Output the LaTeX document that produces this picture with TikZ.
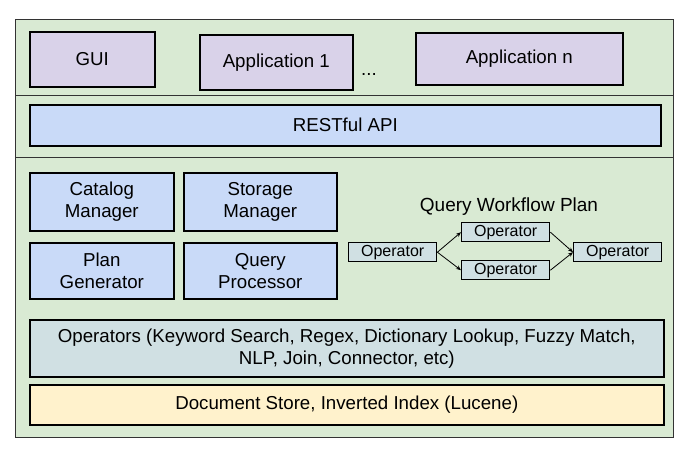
\documentclass[tikz,border=0pt]{standalone}
\usepackage{fontspec}
\setmainfont{Liberation Sans}
\usetikzlibrary{arrows.meta}

\definecolor{layergreen}{HTML}{D9EAD3}
\definecolor{apppurple}{HTML}{D9D2E9}
\definecolor{corelblue}{HTML}{C9DAF8}
\definecolor{opgray}{HTML}{D0E0E3}
\definecolor{storeyellow}{HTML}{FFF2CC}
\definecolor{framegray}{HTML}{333333}

\tikzset{
    box/.style={draw=black, line width=1.6pt, anchor=north west, align=center,
        inner sep=0pt, font=\fontsize{18.7}{22}\selectfont},
    opbox/.style={draw=black, line width=1.4pt, fill=opgray, anchor=north west,
        inner sep=0pt, minimum width=88pt, minimum height=19pt,
        font=\fontsize{16}{18}\selectfont},
    flow/.style={-{Stealth[length=5pt,width=4pt]}, line width=0.8pt},
}

\begin{document}
\begin{tikzpicture}[x=1pt, y=-1pt]
    \useasboundingbox (0,0) rectangle (683,450);

    % Frame with the three layers
    \node[draw=framegray, line width=1pt, fill=layergreen, anchor=north west,
        minimum width=658pt, minimum height=418pt, inner sep=0pt] (frame) at (15,19) {};
    \draw[framegray, line width=1pt] (15,95) -- (673,95);
    \draw[framegray, line width=1pt] (15,157) -- (673,157);

    % TOP: applications
    \node[box, fill=apppurple, minimum width=125pt, minimum height=55pt] (gui) at (29,31) {GUI};
    \node[box, fill=apppurple, minimum width=153pt, minimum height=55pt] (app1) at (199,34) {Application 1};
    \node[font=\fontsize{18.7}{22}\selectfont] (dots) at (369,74) {...};
    \node[box, fill=apppurple, minimum width=207pt, minimum height=52pt] (appn) at (415,32) {Application n};

    % MIDDLE: API
    \node[box, fill=corelblue, minimum width=631pt, minimum height=41pt] (api) at (29,104) {RESTful API};

    % BOTTOM: engine
    \node[box, fill=corelblue, minimum width=144pt, minimum height=58pt] (catalog) at (29,172) {Catalog\\Manager};
    \node[box, fill=corelblue, minimum width=153pt, minimum height=58pt] (storage) at (183,172) {Storage\\Manager};
    \node[box, fill=corelblue, minimum width=144pt, minimum height=56pt] (plan) at (29,242) {Plan\\Generator};
    \node[box, fill=corelblue, minimum width=153pt, minimum height=56pt] (query) at (183,242) {Query\\Processor};

    % Query workflow plan
    \node[font=\fontsize{19}{22}\selectfont] (wflabel) at (509,207) {Query Workflow Plan};
    \node[opbox] (opsrc) at (348,242) {Operator};
    \node[opbox] (optop) at (461,222) {Operator};
    \node[opbox] (opbot) at (461,260) {Operator};
    \node[opbox] (opdst) at (573,242) {Operator};
    \draw[flow] (opsrc.east) -- (optop.west);
    \draw[flow] (opsrc.east) -- (opbot.west);
    \draw[flow] (optop.east) -- (opdst.west);
    \draw[flow] (opbot.east) -- (opdst.west);

    % Operators and storage
    \node[box, fill=opgray, minimum width=634pt, minimum height=57pt] (operators) at (29,319)
        {Operators (Keyword Search, Regex, Dictionary Lookup, Fuzzy Match,\\NLP, Join, Connector, etc)};
    \node[box, fill=storeyellow, minimum width=634pt, minimum height=40pt] (store) at (29,384)
        {Document Store, Inverted Index (Lucene)};
\end{tikzpicture}
\end{document}
